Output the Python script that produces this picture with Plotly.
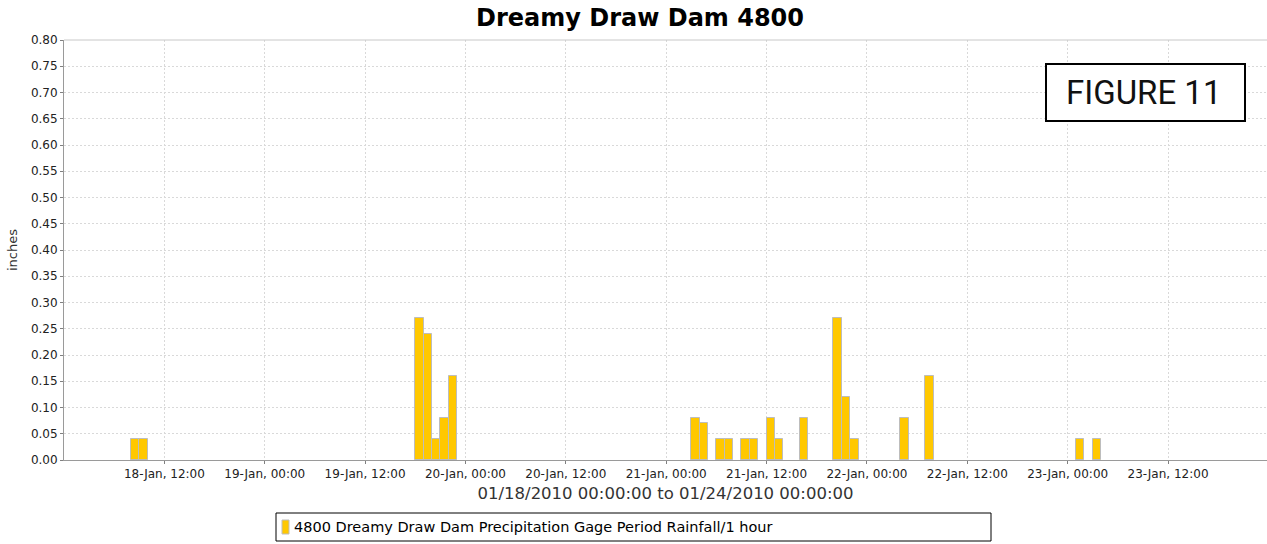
import plotly.graph_objects as go

# ---- data ----
period_start = [
    "2010-01-18 08:00", "2010-01-18 09:00",
    "2010-01-19 18:00", "2010-01-19 19:00", "2010-01-19 20:00", "2010-01-19 21:00", "2010-01-19 22:00",
    "2010-01-21 03:00", "2010-01-21 04:00", "2010-01-21 06:00", "2010-01-21 07:00",
    "2010-01-21 09:00", "2010-01-21 10:00", "2010-01-21 12:00", "2010-01-21 13:00",
    "2010-01-21 16:00", "2010-01-21 20:00", "2010-01-21 21:00", "2010-01-21 22:00",
    "2010-01-22 04:00", "2010-01-22 07:00",
    "2010-01-23 01:00", "2010-01-23 03:00",
]
rainfall_in = [
    0.04, 0.04,
    0.27, 0.24, 0.04, 0.08, 0.16,
    0.08, 0.07, 0.04, 0.04,
    0.04, 0.04, 0.08, 0.04,
    0.08, 0.27, 0.12, 0.04,
    0.08, 0.16,
    0.04, 0.04,
]
tick_times = [
    "2010-01-18 12:00", "2010-01-19 00:00", "2010-01-19 12:00", "2010-01-20 00:00",
    "2010-01-20 12:00", "2010-01-21 00:00", "2010-01-21 12:00", "2010-01-22 00:00",
    "2010-01-22 12:00", "2010-01-23 00:00", "2010-01-23 12:00",
]
y_ticks = [round(i * 0.05, 2) for i in range(17)]
series_name = "4800 Dreamy Draw Dam Precipitation Gage Period Rainfall/1 hour"
title_text = "Dreamy Draw Dam 4800"
x_title = "01/18/2010 00:00:00 to 01/24/2010 00:00:00"
y_title = "inches"
figure_label = "FIGURE 11"

W, H = 1267, 544
L, R, T, B = 64, 0, 40, 84
BAR_COLOR = "#FFC800"
BAR_EDGE = "#BDBDBD"

fig = go.Figure()
fig.add_trace(go.Bar(
    x=period_start, y=rainfall_in, name=series_name,
    width=3600000, offset=0,
    marker=dict(color=BAR_COLOR, line=dict(color=BAR_EDGE, width=1)),
    showlegend=False,
))

grid = dict(gridcolor="#D9D9D9", griddash="2px,2px", gridwidth=1)
fig.update_xaxes(
    type="date", range=["2010-01-18 00:00", "2010-01-23 23:50"],
    tickvals=tick_times, tickformat="%d-%b, %H:%M", tickangle=0, automargin=False,
    tickfont=dict(family="DejaVu Sans", size=12, color="#222222"),
    ticks="outside", ticklen=3, tickcolor="#808080",
    showline=True, linecolor="#9A9A9A", linewidth=1,
    title=dict(text=x_title, font=dict(family="DejaVu Sans", size=16.5, color="#333333"), standoff=7),
    zeroline=False, **grid,
)
fig.update_yaxes(
    range=[0, 0.8], tickvals=y_ticks, tickformat=".2f", automargin=False,
    tickfont=dict(family="DejaVu Sans", size=12, color="#222222"),
    ticks="outside", ticklen=3, tickcolor="#808080",
    showline=True, linecolor="#9A9A9A", linewidth=1,
    title=dict(text=y_title, font=dict(family="DejaVu Sans", size=13, color="#333333"), standoff=10),
    zeroline=False, **grid,
)

fig.update_layout(
    width=W, height=H,
    margin=dict(l=L, r=R, t=T, b=B, pad=0, autoexpand=False),
    paper_bgcolor="white", plot_bgcolor="white",
    title=dict(text="<b>" + title_text + "</b>", x=640 / W, xref="container", xanchor="center",
               y=1 - 18 / H, yref="container", yanchor="middle",
               font=dict(family="DejaVu Sans", size=24, color="black")),
    showlegend=False,
    bargap=0,
)

pw = W - L - R
ph = H - T - B
def px(x):
    return (x - L) / pw
def py(y):
    return (H - B - y) / ph

# top outline of plot
fig.add_shape(type="line", xref="paper", yref="paper", x0=0, x1=1, y0=1, y1=1,
              line=dict(color="#C8C8C8", width=1), layer="above")
# legend frame
fig.add_shape(type="rect", xref="paper", yref="paper",
              x0=px(276), x1=px(991), y0=py(541), y1=py(513),
              line=dict(color="black", width=1), fillcolor="rgba(0,0,0,0)", layer="above")
# legend swatch
fig.add_shape(type="rect", xref="paper", yref="paper",
              x0=px(282), x1=px(289), y0=py(534), y1=py(520),
              line=dict(color=BAR_EDGE, width=1), fillcolor=BAR_COLOR, layer="above")
fig.add_annotation(xref="paper", yref="paper", x=px(292), y=py(527),
                   text=series_name, showarrow=False, xanchor="left", yanchor="middle",
                   font=dict(family="DejaVu Sans", size=14.5, color="black"))
# FIGURE 11 box
fig.add_shape(type="rect", xref="paper", yref="paper",
              x0=px(1046), x1=px(1245), y0=py(121), y1=py(64),
              line=dict(color="black", width=2), fillcolor="white", layer="above")
fig.add_annotation(xref="paper", yref="paper", x=px(1143), y=py(92),
                   text=figure_label, showarrow=False, xanchor="center", yanchor="middle",
                   font=dict(family="Roboto", size=33, color="#111111"))

fig.write_html("out.html", config={"displayModeBar": False},
               post_script="document.body.style.margin='0';document.body.style.padding='0';")
